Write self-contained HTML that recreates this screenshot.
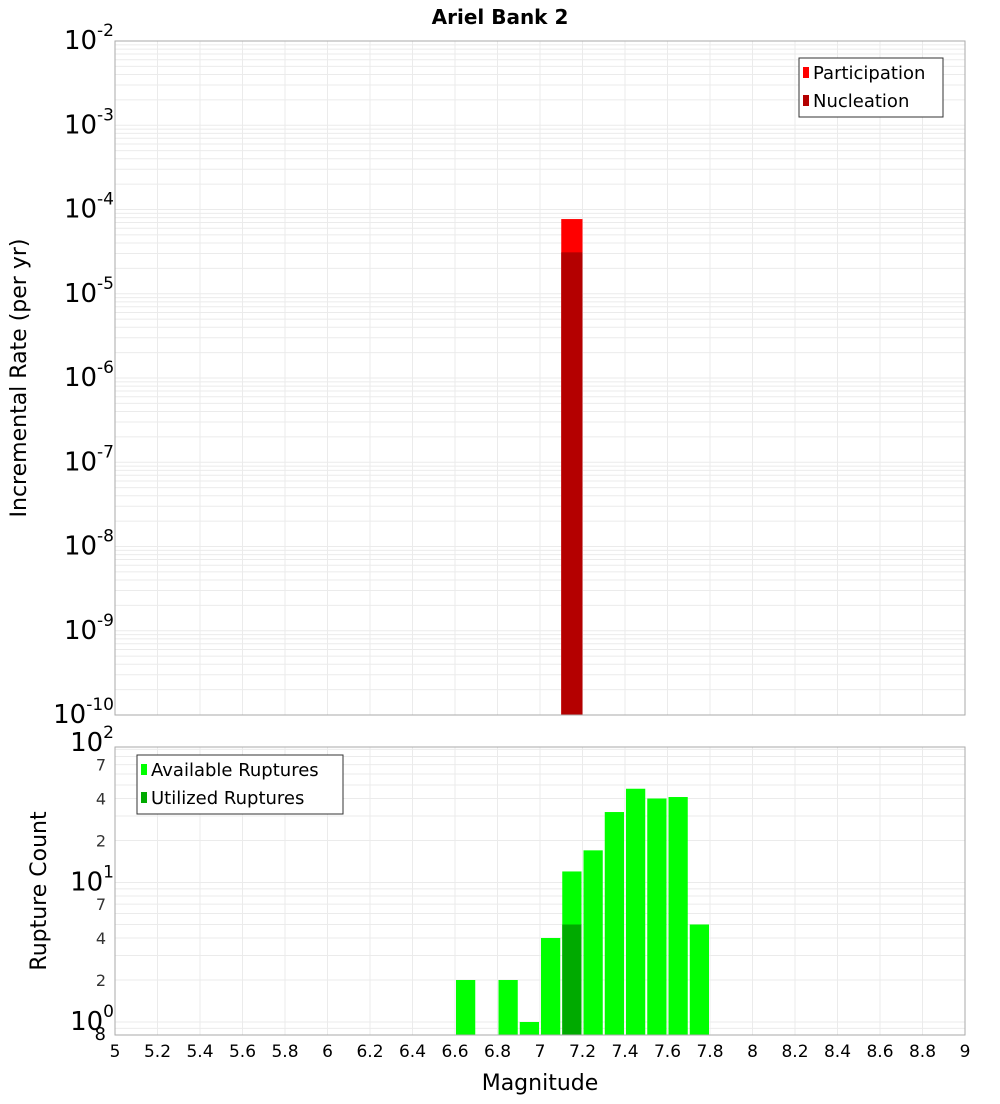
<!DOCTYPE html>
<html><head><meta charset="utf-8"><style>
body{margin:0;background:#fff;font-family:"DejaVu Sans","Liberation Sans",sans-serif;}
svg text{font-family:"DejaVu Sans","Liberation Sans",sans-serif;}
</style></head><body>
<svg id="c" width="1000" height="1100" xmlns="http://www.w3.org/2000/svg">
<text x="500" y="24" text-anchor="middle" font-size="20" font-weight="bold">Ariel Bank 2</text>
<text transform="translate(26,378) rotate(-90)" text-anchor="middle" font-size="22">Incremental Rate (per yr)</text>
<text transform="translate(46,891) rotate(-90)" text-anchor="middle" font-size="22">Rupture Count</text>
<text x="540" y="1090" text-anchor="middle" font-size="22">Magnitude</text>
<g id="g"></g>
</svg>
<script>
const topBins=[7.15];
const participation=[7.7e-5];
const nucleation=[3.1e-5];
const botBins=[6.65,6.85,6.95,7.05,7.15,7.25,7.35,7.45,7.55,7.65,7.75];
const available=[2,2,1,4,12,17,32,47,40,41,5];
const utilizedBins=[7.15];
const utilized=[5];
const xTicks=[5,5.2,5.4,5.6,5.8,6,6.2,6.4,6.6,6.8,7,7.2,7.4,7.6,7.8,8,8.2,8.4,8.6,8.8,9];
const topExps=[-2,-3,-4,-5,-6,-7,-8,-9,-10];
const botExps=[0,1,2];

const NS="http://www.w3.org/2000/svg";
const g=document.getElementById('g');
const L=115,R=965,T1=41,B1=715,T2=747,B2=1035;
const x=m=>L+(m-5)*(R-L)/4;
const y1=v=>T1+(-2-Math.log10(v))*(B1-T1)/8;
const y2=v=>1022-Math.log10(v)*139.5;
function el(t,a,txt){const e=document.createElementNS(NS,t);for(const k in a)e.setAttribute(k,a[k]);if(txt!==undefined)e.textContent=txt;g.appendChild(e);return e;}
// backgrounds
let e=el('rect',{x:L,y:T1,width:R-L,height:B1-T1,fill:'#fff'});


e=el('rect',{x:L,y:T2,width:R-L,height:B2-T2,fill:'#fff'});


// top gridlines
for(let d=-10;d<-2;d++){for(let k=1;k<10;k++){const yy=y1(k*Math.pow(10,d));
e=el('line',{x1:L,x2:R,y1:yy,y2:yy,stroke:'#ebebeb','stroke-width':1});

}}
for(let k=-1;k<=2;k++){for(let j=1;j<10;j++){const v=j*Math.pow(10,k);const yy=y2(v);if(yy<T2||yy>B2)continue;
e=el('line',{x1:L,x2:R,y1:yy,y2:yy,stroke:'#ebebeb','stroke-width':1});

}}
xTicks.forEach(t=>{const xx=x(t);
e=el('line',{x1:xx,x2:xx,y1:T1,y2:B1,stroke:'#ebebeb'});


e=el('line',{x1:xx,x2:xx,y1:T2,y2:B2,stroke:'#ebebeb'});


e=el('text',{x:xx,y:1057,'text-anchor':'middle','font-size':17},String(t));

});
// top bars
topBins.forEach((m,i)=>{const x0=x(m-0.05),w=x(m+0.05)-x0;
e=el('rect',{x:x0,y:y1(participation[i]),width:w,height:B1-y1(participation[i]),fill:'#ff0000'});


e=el('rect',{x:x0,y:y1(nucleation[i]),width:w,height:B1-y1(nucleation[i]),fill:'#b40000'});

});
// bottom bars
botBins.forEach((m,i)=>{const x0=x(m-0.05)+1,w=x(m+0.05)-x0-1;
e=el('rect',{x:x0,y:y2(available[i]),width:w,height:B2-y2(available[i]),fill:'#00ff00'});

});
utilizedBins.forEach((m,i)=>{const x0=x(m-0.05)+1,w=x(m+0.05)-x0-1;
e=el('rect',{x:x0,y:y2(utilized[i]),width:w,height:B2-y2(utilized[i]),fill:'#00aa00'});

});
// frames
e=el('rect',{x:L,y:T1,width:R-L,height:B1-T1,fill:'none',stroke:'#aaa'});


e=el('rect',{x:L,y:T2,width:R-L,height:B2-T2,fill:'none',stroke:'#aaa'});


// y labels
function pow(xx,yy,exp,nm){const t=el('text',{x:xx,y:yy,'text-anchor':'end','font-size':26});


const a=document.createElementNS(NS,'tspan');a.textContent='10';t.appendChild(a);
const b=document.createElementNS(NS,'tspan');b.setAttribute('dy','-13');b.setAttribute('font-size','17');b.textContent=String(exp);t.appendChild(b);}
topExps.forEach(d=>{const yy=y1(Math.pow(10,d));pow(114,yy+8,d,'top-y-tick-label');});
botExps.forEach(d=>{const yy=y2(Math.pow(10,d));pow(114,yy+8,d,'bottom-y-tick-label');});
[[2,'2'],[4,'4'],[7,'7'],[20,'2'],[40,'4'],[70,'7']].forEach(p=>{const yy=y2(p[0]);
e=el('text',{x:106,y:yy+6,'text-anchor':'end','font-size':16,fill:'#333'},p[1]);

});
e=el('text',{x:106,y:1040,'text-anchor':'end','font-size':18},'8');


// legends
function legend(x0,y0,w,h,items,nm){e=el('rect',{x:x0,y:y0,width:w,height:h,fill:'#fff',stroke:'#333'});


items.forEach((it,i)=>{const yy=y0+18+i*28;
e=el('rect',{x:x0+4,y:yy-9,width:6,height:11,fill:it[1]});


e=el('text',{x:x0+14,y:yy+3,'font-size':18},it[0]);

});}
legend(799,58,144,59,[['Participation','#ff0000'],['Nucleation','#b40000']],'top-legend');
legend(137,755,206,59,[['Available Ruptures','#00ff00'],['Utilized Ruptures','#00aa00']],'bottom-legend');
</script>
</body></html>
